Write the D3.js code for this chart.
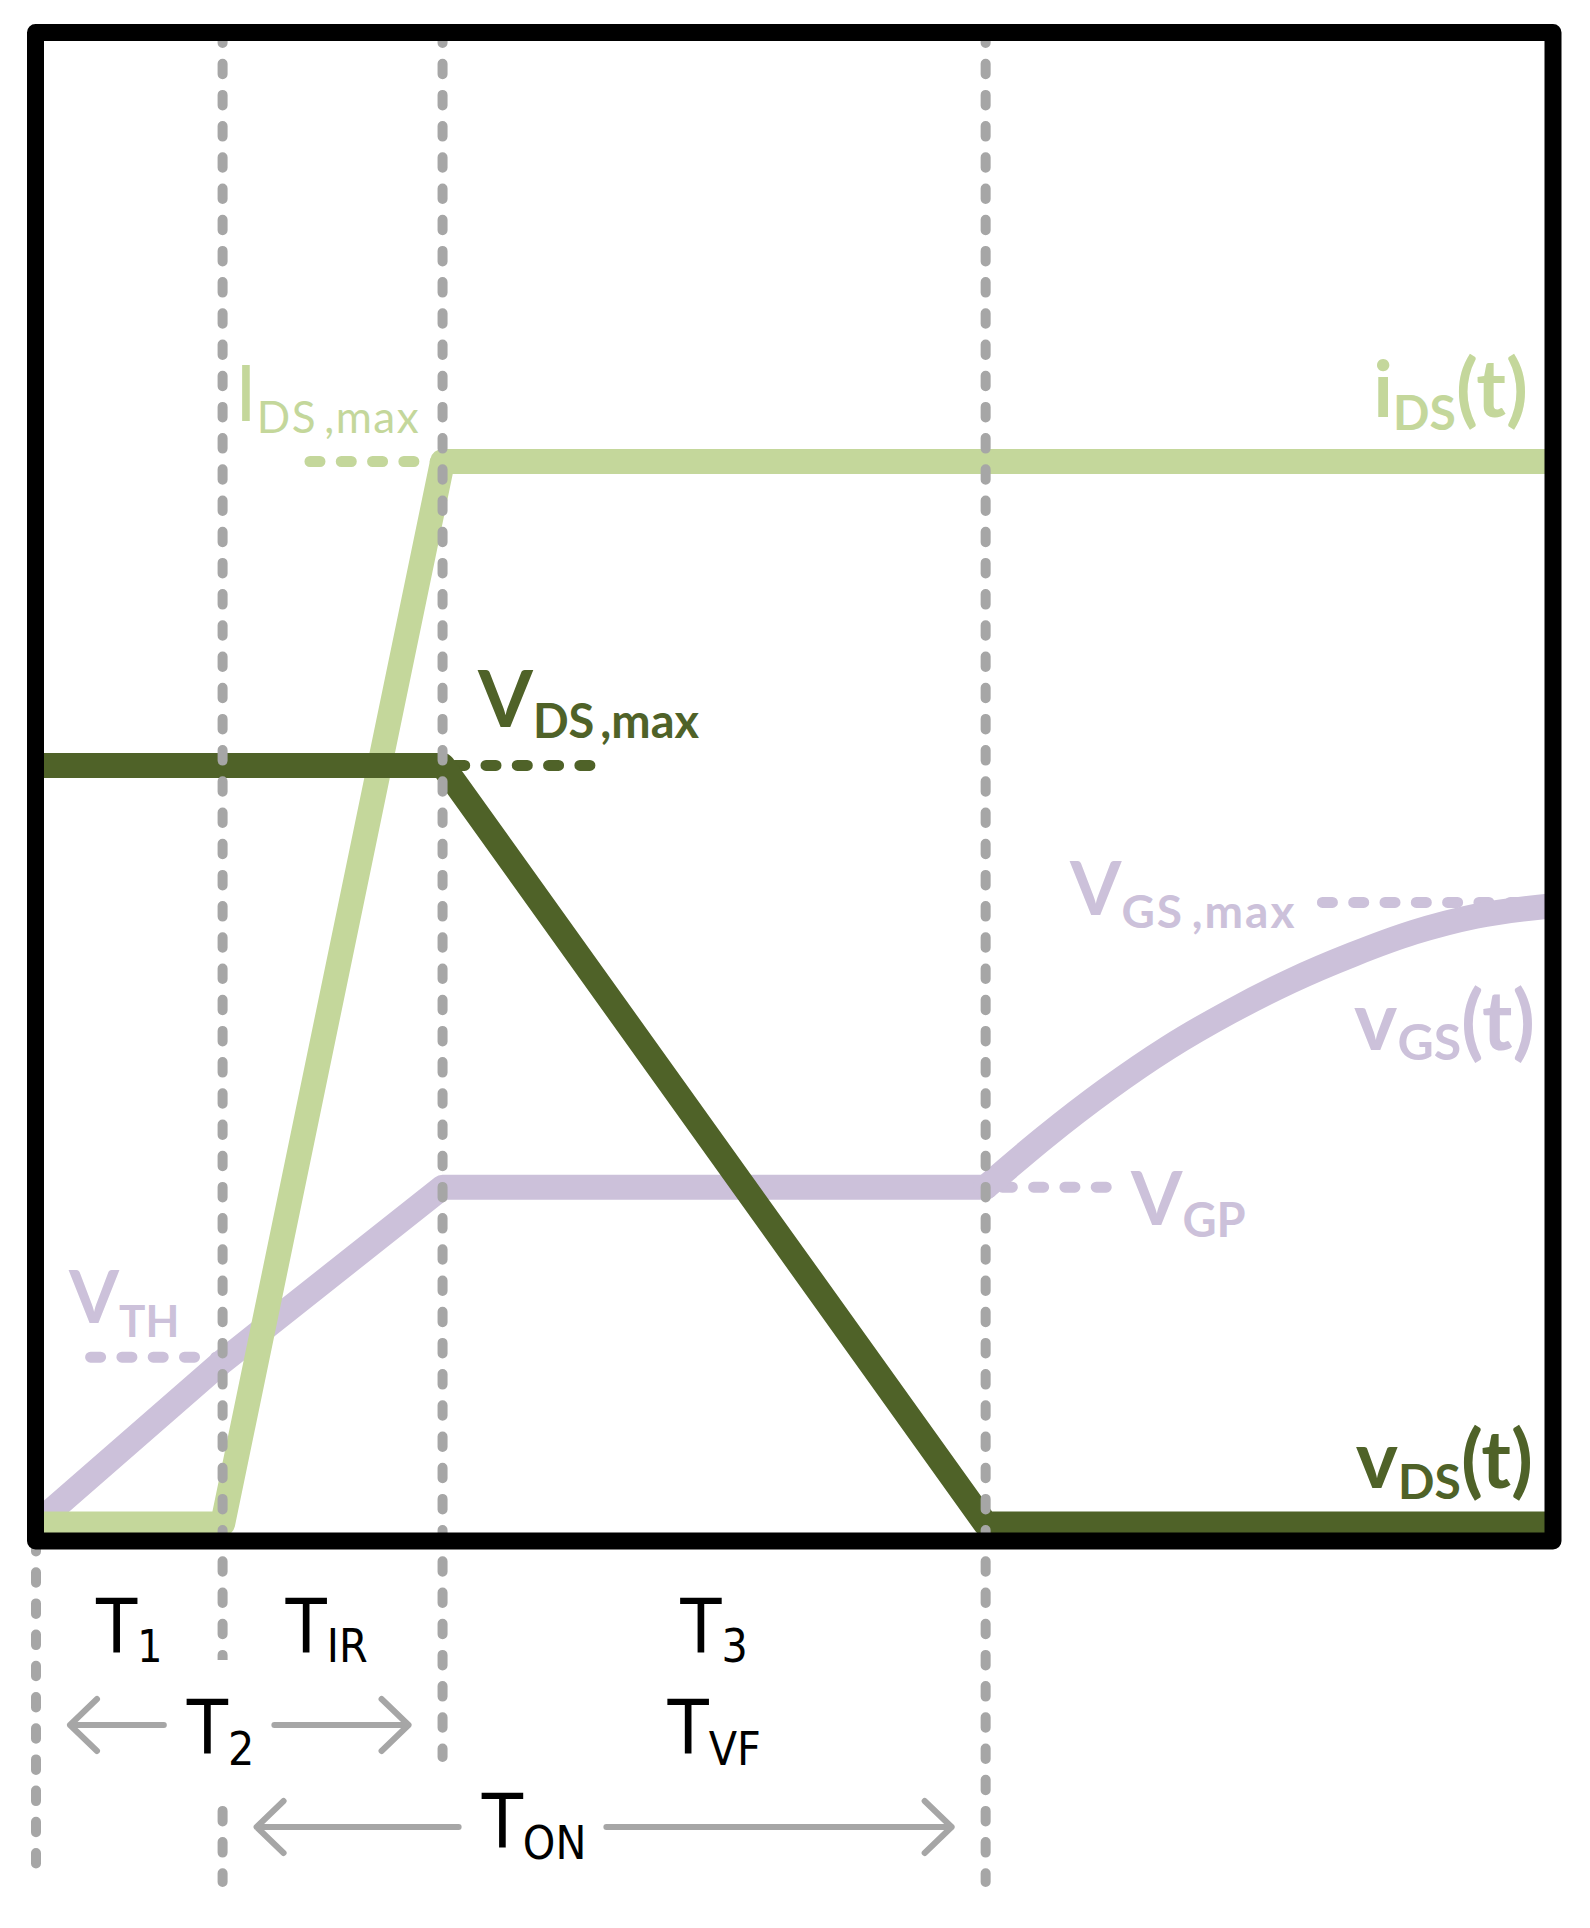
<!DOCTYPE html>
<html>
<head>
<meta charset="utf-8">
<script src="https://cdn.jsdelivr.net/npm/d3@7"></script>
<style>
  body { margin: 0; background: #fff; }
</style>
</head>
<body>
<svg id="chart" width="1590" height="1928"></svg>
<script>
(function () {
    'use strict';

    // switching instants, in arbitrary time units (box spans 0..100)
    var tSwitch = [0, 12.3, 26.8, 62.6];

    // waveforms as [t, value], value in % of I_DS,max scale
    var iDS = [[0, 0], [12.3, 0], [26.8, 100], [100, 100]];
    var vDS = [[0, 71.4], [26.8, 71.4], [62.6, 0], [100, 0]];
    var vGSramp = [[0, 0], [12.3, 15.3], [26.8, 31.7], [62.6, 31.7]];
    var vGSrise = [[62.6, 31.7], [66.5, 36.4], [70.6, 40.9], [74.6, 44.8], [78.7, 48.2],
                   [82.7, 51.1], [86.8, 53.6], [90.85, 55.7], [94.9, 57.2], [100, 58.2]];

    // dashed reference levels: name, level, t-from, t-to
    var levelNames = ['IDS,max', 'VDS,max', 'VTH', 'VGP', 'VGS,max'];
    var levelValues = [100, 71.4, 15.7, 31.7, 58.5];
    var levelFrom = [18.06, 27.6, 3.6, 63.7, 84.8];
    var levelTo = [26.8, 36.9, 12.3, 70.7, 100];

    var lightGreen = '#c4d79b', darkGreen = '#4f6228', purple = '#ccc1da', grey = '#a6a6a6';
    var levelColors = [lightGreen, darkGreen, purple, purple, purple];

    var svg = d3.select('#chart');

    var x = d3.scaleLinear().domain([0, 100]).range([36, 1553]);
    var y = d3.scaleLinear().domain([0, 100]).range([1524, 461.5]);

    var boxTop = 32.5, boxBottom = 1541;

    svg.append('clipPath').attr('id', 'plotClip')
        .append('rect')
        .attr('x', x(0)).attr('y', boxTop)
        .attr('width', x(100) - x(0)).attr('height', boxBottom - boxTop);

    var plot = svg.append('g').attr('clip-path', 'url(#plotClip)');

    // reference level dashes
    plot.selectAll('line.level')
        .data(levelNames)
        .enter().append('line')
        .attr('class', 'level')
        .attr('x1', function (d, i) { return x(levelFrom[i]); })
        .attr('x2', function (d, i) { return x(levelTo[i]); })
        .attr('y1', function (d, i) { return y(levelValues[i]); })
        .attr('y2', function (d, i) { return y(levelValues[i]); })
        .style('stroke', function (d, i) { return levelColors[i]; })
        .style('stroke-width', 11)
        .style('stroke-linecap', 'round')
        .style('stroke-dasharray', '10 21.3');

    var lineLin = d3.line().x(function (d) { return x(d[0]); }).y(function (d) { return y(d[1]); });
    var lineSmooth = d3.line().curve(d3.curveMonotoneX)
        .x(function (d) { return x(d[0]); }).y(function (d) { return y(d[1]); });

    function wave(path, color) {
        plot.append('path')
            .attr('d', path)
            .style('fill', 'none')
            .style('stroke', color)
            .style('stroke-width', 25)
            .style('stroke-linejoin', 'round')
            .style('stroke-linecap', 'round');
    }

    wave(lineLin(vGSramp), purple);
    wave(lineSmooth(vGSrise), purple);
    wave(lineLin(iDS), lightGreen);
    wave(lineLin(vDS), darkGreen);

    // vertical switching markers
    var markTop = [1541, boxTop, boxTop, boxTop];
    var markBottom = [1875, 1882, 1757, 1882];
    svg.selectAll('line.mark')
        .data(tSwitch)
        .enter().append('line')
        .attr('class', 'mark')
        .attr('x1', function (d) { return x(d); })
        .attr('x2', function (d) { return x(d); })
        .attr('y1', function (d, i) { return markTop[i]; })
        .attr('y2', function (d, i) { return markBottom[i]; })
        .style('stroke', grey)
        .style('stroke-width', 10)
        .style('stroke-linecap', 'round')
        .style('stroke-dasharray', '10.5 20.7');

    // frame
    svg.append('rect')
        .attr('x', x(0) - 0.5).attr('y', boxTop)
        .attr('width', x(100) - x(0) + 0.5).attr('height', boxBottom - boxTop)
        .style('fill', 'none')
        .style('stroke', '#000')
        .style('stroke-width', 17)
        .style('stroke-linejoin', 'round');

    function label(o) {
        var t = svg.append('text')
            .attr('x', o.x).attr('y', o.y)
            .attr('fill', o.color)
            .attr('font-family', o.font)
            .attr('font-weight', o.weight || 400)
            .attr('text-anchor', o.anchor || 'start');
        if (o.stretch) t.attr('font-stretch', o.stretch);
        o.parts.forEach(function (p) {
            t.append('tspan')
                .attr('font-size', p[1])
                .attr('dy', p[2] || 0)
                .attr('letter-spacing', p[3] || 0)
                .text(p[0]);
        });
        return t;
    }

    var colFont = 'Lato, "Open Sans", sans-serif';

    label({x: 235, y: 421, color: lightGreen, font: colFont, parts: [['I', 78], ['DS\u2009,max', 44, 12, 1.5]]});
    label({x: 478, y: 727, color: darkGreen, font: colFont, weight: 700, parts: [['V', 79], ['DS\u2009,max', 47, 11, 0]]});
    label({x: 1528, y: 417, color: lightGreen, font: colFont, weight: 700, anchor: 'end',
           parts: [['i', 78], ['DS', 48, 13], ['(t)', 80, -13]]});
    label({x: 1533, y: 1488, color: darkGreen, font: colFont, weight: 700, anchor: 'end',
           parts: [['v', 80], ['DS', 48, 11], ['(t)', 80, -11]]});
    label({x: 1535, y: 1050, color: purple, font: colFont, weight: 700, anchor: 'end',
           parts: [['v', 82], ['GS', 50, 10], ['(t)', 82, -10]]});
    label({x: 1070, y: 915, color: purple, font: colFont, weight: 700, parts: [['V', 74], ['GS\u2009,max', 46, 13, 2]]});
    label({x: 1131, y: 1225, color: purple, font: colFont, weight: 700, parts: [['V', 74], ['GP', 47, 12]]});
    label({x: 69, y: 1323, color: purple, font: colFont, weight: 700, parts: [['V', 72], ['TH', 44, 14]]});

    // interval labels below the frame
    var blackFont = '"DejaVu Sans Condensed", "DejaVu Sans", sans-serif';
    function mid(a, b) { return (x(a) + x(b)) / 2; }

    label({x: mid(tSwitch[0], tSwitch[1]), y: 1652, color: '#000', font: blackFont, stretch: 'condensed', anchor: 'middle',
           parts: [['T', 75], ['1', 44, 10]]});
    label({x: mid(tSwitch[1], tSwitch[2]) - 6, y: 1652, color: '#000', font: blackFont, stretch: 'condensed', anchor: 'middle',
           parts: [['T', 75], ['IR', 46, 10]]});
    label({x: mid(tSwitch[2], tSwitch[3]), y: 1652, color: '#000', font: blackFont, stretch: 'condensed', anchor: 'middle',
           parts: [['T', 75], ['3', 46, 10]]});
    label({x: mid(tSwitch[2], tSwitch[3]), y: 1753, color: '#000', font: blackFont, stretch: 'condensed', anchor: 'middle',
           parts: [['T', 75], ['VF', 46, 12]]});

    // white pad behind T2 so the marker line breaks around it
    var t2pad = svg.append('rect').style('fill', '#fff');
    var t2 = label({x: x(tSwitch[1]) - 2, y: 1753, color: '#000', font: blackFont, stretch: 'condensed', anchor: 'middle',
                    parts: [['T', 75], ['2', 46, 12]]});
    var tOn = label({x: 534, y: 1847, color: '#000', font: blackFont, stretch: 'condensed', anchor: 'middle',
                     parts: [['T', 75], ['ON', 46, 12]]});
    var b2 = t2.node().getBBox();
    t2pad.attr('x', b2.x).attr('width', b2.width)
        .attr('y', 1660).attr('height', 1798 - 1660);

    // double-headed span arrows broken by their labels
    function spanArrow(tFrom, tTo, yy, box) {
        var g = svg.append('g')
            .style('stroke', grey).style('stroke-width', 6)
            .style('stroke-linecap', 'round').style('stroke-linejoin', 'round')
            .style('fill', 'none');
        var xa = x(tFrom) + 34, xb = x(tTo) - 34;
        var gapL = box.x - 22, gapR = box.x + box.width + 20;
        g.append('path').attr('d', 'M' + gapL + ',' + yy + 'H' + xa +
            'M' + (xa + 27) + ',' + (yy - 26) + 'L' + xa + ',' + yy + 'L' + (xa + 27) + ',' + (yy + 26));
        g.append('path').attr('d', 'M' + gapR + ',' + yy + 'H' + xb +
            'M' + (xb - 27) + ',' + (yy - 26) + 'L' + xb + ',' + yy + 'L' + (xb - 27) + ',' + (yy + 26));
    }
    spanArrow(tSwitch[0], tSwitch[2], 1725, b2);
    spanArrow(tSwitch[1], tSwitch[3], 1827, tOn.node().getBBox());
}());
</script>
</body>
</html>
